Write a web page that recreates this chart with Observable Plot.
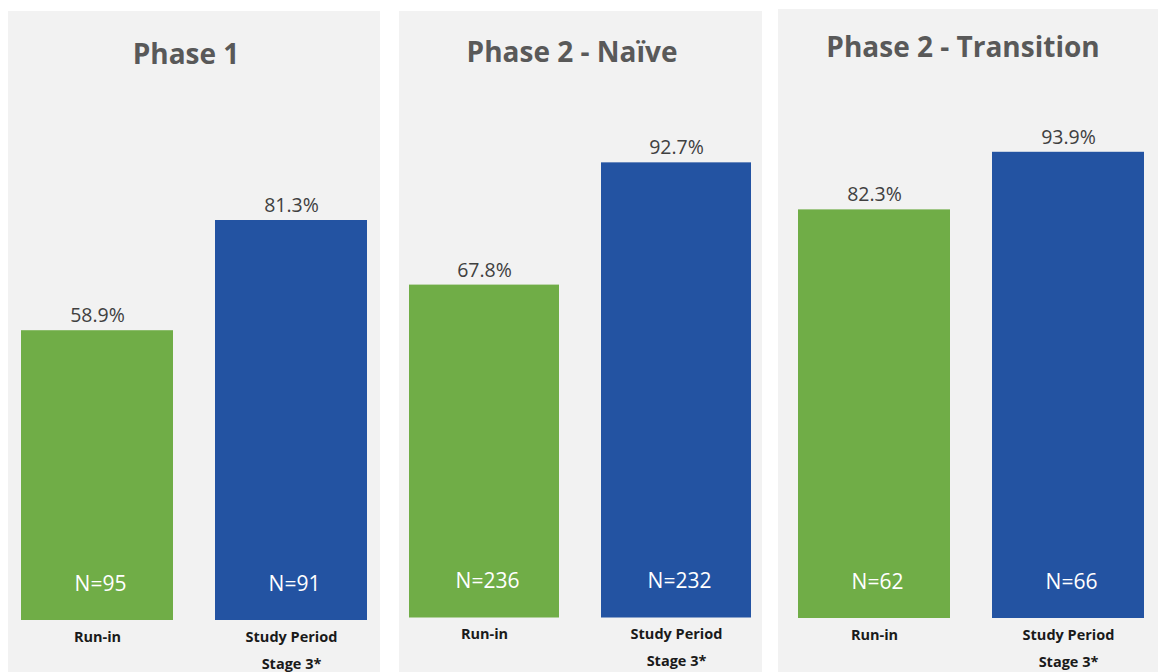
<!DOCTYPE html>
<html>
<head>
<meta charset="utf-8">
<script src="https://cdn.jsdelivr.net/npm/d3@7"></script>
<script src="https://cdn.jsdelivr.net/npm/@observablehq/plot@0.6"></script>
<style>
  body { margin: 0; background: #ffffff; }
  #wrap { position: relative; width: 1158px; height: 672px; overflow: hidden; background: #ffffff; font-family: "Open Sans", sans-serif; }
  .panel { position: absolute; background: #f2f2f2; }
  .panel svg { display: block; }
</style>
</head>
<body>
<div id="wrap"></div>
<script>
// ---- data ----
const panelTitles = ["Phase 1", "Phase 2 - Naïve", "Phase 2 - Transition"];
const periods = ["Run-in", "Study Period\nStage 3*"];
const runInPct = [58.9, 67.8, 82.3];
const stage3Pct = [81.3, 92.7, 93.9];
const runInN = [95, 236, 62];
const stage3N = [91, 232, 66];
const barColors = ["#70ad47", "#2353a2"];

// ---- layout (style only) ----
const layout = [
  { left: 8,   top: 11, width: 372, height: 661, ml: 13, mr: 13, mt: 117,   mb: 52,   pad: 0.218 },
  { left: 399, top: 11, width: 363, height: 661, ml: 10, mr: 11, mt: 115.5, mb: 54.5, pad: 0.219 },
  { left: 778, top: 9,  width: 380, height: 663, ml: 19, mr: 13, mt: 112.5, mb: 54,   pad: 0.215 }
];

const wrap = document.getElementById("wrap");

panelTitles.forEach((title, i) => {
  const L = layout[i];
  const rows = [
    { period: periods[0], pct: runInPct[i], n: runInN[i] },
    { period: periods[1], pct: stage3Pct[i], n: stage3N[i] }
  ];
  const chart = Plot.plot({
    width: L.width,
    height: L.height,
    marginTop: L.mt,
    marginBottom: L.mb,
    marginLeft: L.ml,
    marginRight: L.mr,
    style: { background: "transparent", fontFamily: "'Open Sans', sans-serif", overflow: "visible" },
    x: { domain: periods, paddingInner: L.pad, paddingOuter: 0, axis: null },
    y: { domain: [0, 100], axis: null },
    color: { domain: periods, range: barColors },
    marks: [
      Plot.barY(rows, { x: "period", y: "pct", fill: "period" }),
      Plot.text(rows, {
        x: "period", y: "pct",
        text: d => d.pct.toFixed(1) + "%",
        lineAnchor: "bottom", dy: -8.5,
        fontSize: 19.5, fill: "#404040"
      }),
      Plot.text(rows, {
        x: "period", frameAnchor: "bottom",
        text: d => "N=" + d.n,
        lineAnchor: "bottom", dy: -30, dx: 3,
        fontSize: 21, fill: "#ffffff"
      }),
      Plot.text(rows, {
        x: "period", frameAnchor: "bottom",
        text: "period",
        lineAnchor: "top", dy: 2.3, lineHeight: 1.85,
        fontSize: 14.5, fontWeight: "bold", fill: "#1a1a1a"
      }),
      Plot.text([title], {
        frameAnchor: "top",
        text: d => d,
        lineAnchor: "bottom", dy: -65, dx: -8.5,
        fontSize: 28, fontWeight: "bold", fill: "#595959"
      })
    ]
  });
  const div = document.createElement("div");
  div.className = "panel";
  div.style.left = L.left + "px";
  div.style.top = L.top + "px";
  div.style.width = L.width + "px";
  div.style.height = L.height + "px";
  div.appendChild(chart);
  wrap.appendChild(div);
});
</script>
</body>
</html>
